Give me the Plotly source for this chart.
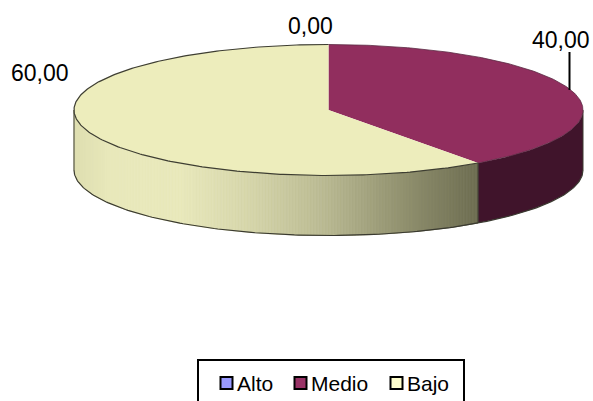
import numpy as np
import plotly.graph_objects as go

# Series
categories = ["Alto", "Medio", "Bajo"]
values = [0.0, 40.0, 60.0]

# Fill colours
top_colors = {"Alto": "#9999FF", "Medio": "#912E5E", "Bajo": "#EDEDBC"}
side_colors = {"Alto": "#55558F", "Medio": "#40142B", "Bajo": "#EDEDBC"}
legend_colors = {"Alto": "#9999FF", "Medio": "#993366", "Bajo": "#FFFFCC"}

# Disc geometry in pixels
CX, CY, RX, RY, DEPTH = 328.5, 110.0, 254.5, 65.5, 60.0
W, H = 593, 401

# Horizontal shading of the pale slice's rim: (x, colour)
rim_stops = [
    (74, (222, 222, 176)), (110, (232, 232, 186)), (180, (232, 232, 186)),
    (250, (212, 212, 168)), (320, (186, 186, 146)), (400, (146, 146, 112)),
    (478, (108, 108, 80)),
]


def rim_color(x):
    xs = [s[0] for s in rim_stops]
    rgb = [np.interp(x, xs, [s[1][i] for s in rim_stops]) for i in range(3)]
    return "rgb({:.0f},{:.0f},{:.0f})".format(*rgb)


def ex(t):
    return CX + RX * np.sin(t)


def ey(t):
    return CY - RY * np.cos(t)


def polygon(xs, ys, fill, line=None, width=0.0):
    return go.Scatter(
        x=list(xs), y=list(ys), mode="lines", fill="toself", fillcolor=fill,
        line=dict(color=line or fill, width=width), hoverinfo="skip", showlegend=False,
    )


def stroke(xs, ys, color="#3A3A30", width=1.0):
    return go.Scatter(
        x=list(xs), y=list(ys), mode="lines",
        line=dict(color=color, width=width), hoverinfo="skip", showlegend=False,
    )


fig = go.Figure()

# Slice angles, clockwise from twelve o'clock
total = sum(values)
cuts = np.cumsum([0.0] + values) / total * 2 * np.pi
spans = {c: (cuts[i], cuts[i + 1]) for i, c in enumerate(categories)}

# Visible rim (front half of the disc)
for cat in categories:
    a, b = spans[cat]
    a, b = max(a, np.pi / 2), min(b, 3 * np.pi / 2)
    if b <= a:
        continue
    if cat == "Bajo":
        # Strips of even on-screen width, so the shading runs smoothly
        right, left = ex(a), ex(b)
        edges = np.linspace(right, left, int((right - left) / 1.5) + 1)
        for x0, x1 in zip(edges[:-1], edges[1:]):
            t0 = a if x0 == right else np.pi - np.arcsin((x0 - CX) / RX)
            t1 = b if x1 == left else np.pi - np.arcsin((x1 - CX) / RX)
            xs = [x0, x1, x1, x0]
            ys = [ey(t0), ey(t1), ey(t1) + DEPTH, ey(t0) + DEPTH]
            fig.add_trace(polygon(xs, ys, rim_color((x0 + x1) / 2), width=1.0))
    else:
        t = np.linspace(a, b, 60)
        xs = np.r_[ex(t), ex(t[::-1])]
        ys = np.r_[ey(t), ey(t[::-1]) + DEPTH]
        fig.add_trace(polygon(xs, ys, side_colors[cat]))

# Rim outlines
front = np.linspace(np.pi / 2, 3 * np.pi / 2, 200)
fig.add_trace(stroke(ex(front), ey(front) + DEPTH, width=1.2))
for t in (np.pi / 2, 3 * np.pi / 2, spans["Medio"][1]):
    fig.add_trace(stroke([ex(t), ex(t)], [ey(t), ey(t) + DEPTH]))

# Top face
for cat in categories:
    a, b = spans[cat]
    if b <= a:
        continue
    t = np.linspace(a, b, 200)
    fig.add_trace(polygon(np.r_[CX, ex(t), CX], np.r_[CY, ey(t), CY], top_colors[cat]))

m0, m1 = spans["Medio"]
pale = np.linspace(m1, 2 * np.pi, 300)
fig.add_trace(stroke(ex(pale), ey(pale), color="#3E3E32", width=1.2))
medio_arc = np.linspace(m0, m1, 200)
fig.add_trace(stroke(ex(medio_arc), ey(medio_arc), color="#5A2A42", width=0.8))

# Data labels with Spanish decimal commas
fmt = {c: f"{v:.2f}".replace(".", ",") for c, v in zip(categories, values)}
label_pos = {"Alto": (310.5, 26), "Medio": (561, 40), "Bajo": (40, 73)}
annotations = [
    dict(x=label_pos[c][0], y=label_pos[c][1], text=fmt[c], showarrow=False,
         xanchor="center", yanchor="middle", xref="x", yref="y",
         font=dict(family="Liberation Sans", size=23, color="#000000"))
    for c in categories
]

# Leader line for the Medio label
shapes = [
    dict(type="line", x0=569.5, x1=569.5, y0=52, y1=90,
         line=dict(color="#000000", width=2), layer="above"),
    # Key frame; its lower edge runs past the bottom of the page
    dict(type="rect", x0=198, x1=464, y0=360, y1=412,
         line=dict(color="#000000", width=2), fillcolor="#FFFFFF", layer="below"),
]

# Key entries
key_x = {"Alto": 226.5, "Medio": 300.5, "Bajo": 396.5}
key_text_x = {"Alto": 235, "Medio": 309, "Bajo": 405}
for cat in categories:
    fig.add_trace(go.Scatter(
        x=[key_x[cat]], y=[383], mode="markers", name=cat,
        showlegend=False, hoverinfo="skip",
        marker=dict(symbol="square", size=12, color=legend_colors[cat],
                    line=dict(color="#000000", width=2)),
    ))
    annotations.append(dict(
        x=key_text_x[cat], y=383, text=cat, showarrow=False,
        xanchor="left", yanchor="middle", xref="x", yref="y",
        font=dict(family="Liberation Sans", size=21, color="#000000"),
    ))

fig.update_layout(
    width=W, height=H, margin=dict(l=0, r=0, t=0, b=0),
    paper_bgcolor="#FFFFFF", plot_bgcolor="#FFFFFF", showlegend=False,
    xaxis=dict(range=[0, W], visible=False, fixedrange=True),
    yaxis=dict(range=[H, 0], visible=False, fixedrange=True),
    annotations=annotations, shapes=shapes,
)

fig.write_html("out.html", config={"displayModeBar": False})
